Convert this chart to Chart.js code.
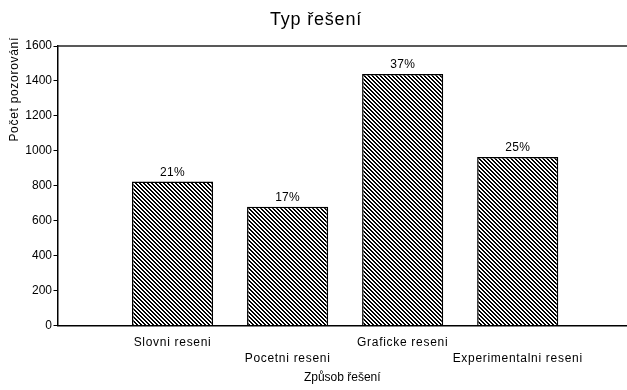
<!DOCTYPE html>
<html>
<head>
<meta charset="utf-8">
<script src="https://cdn.jsdelivr.net/npm/chart.js@4"></script>
<style>
  html, body { margin: 0; padding: 0; background: #fff; overflow: hidden; }
  #wrap { width: 627px; height: 390px; }
</style>
</head>
<body>
<div id="wrap"><canvas id="c" width="627" height="390"></canvas></div>
<script>
// Categories and observation counts
const categories = ['Slovni reseni', 'Pocetni reseni', 'Graficke reseni', 'Experimentalni reseni'];
const counts = [825, 680, 1440, 965];
const yTicks = [0, 200, 400, 600, 800, 1000, 1200, 1400, 1600];

const chartTitle = 'Typ řešení';
const xTitle = 'Způsob řešení';
const yTitle = 'Počet pozorování';

const total = counts.reduce((a, b) => a + b, 0);
const percents = counts.map(v => Math.round(v / total * 100));

const FONT = 'Liberation Sans, Arial, sans-serif';

// Diagonal hatch fill ("\\\" stripes)
function hatchPattern() {
  const c = document.createElement('canvas');
  c.width = 4; c.height = 4;
  const g = c.getContext('2d');
  const img = g.createImageData(4, 4);
  for (let y = 0; y < 4; y++) {
    for (let x = 0; x < 4; x++) {
      const d = ((x - y) % 4 + 4) % 4;
      const v = d < 2 ? 0 : 255;
      const i = (y * 4 + x) * 4;
      img.data[i] = img.data[i + 1] = img.data[i + 2] = v;
      img.data[i + 3] = 255;
    }
  }
  g.putImageData(img, 0, 0);
  return g.createPattern(c, 'repeat');
}

// Slightly wider letter spacing for the category labels
const spacedLabels = {
  id: 'spacedLabels',
  afterUpdate(chart) {
    const sx = chart.scales.x;
    if (sx._spaced) return;
    const orig = sx.drawLabels;
    sx.drawLabels = function (area) {
      const ctx = this.ctx;
      ctx.save();
      ctx.letterSpacing = '0.7px';
      orig.call(this, area);
      ctx.restore();
    };
    sx._spaced = true;
  }
};

// Frame line on top, chart title, and the vertical axis title
const decorations = {
  id: 'decorations',
  afterDraw(chart) {
    const { ctx, chartArea } = chart;
    ctx.save();
    ctx.strokeStyle = '#222';
    ctx.lineWidth = 1.5;
    ctx.beginPath();
    ctx.moveTo(chartArea.left, chartArea.top);
    ctx.lineTo(chartArea.right, chartArea.top);
    ctx.stroke();

    ctx.fillStyle = '#000';
    ctx.textBaseline = 'middle';
    ctx.textAlign = 'center';
    ctx.font = '18px ' + FONT;
    ctx.letterSpacing = '0.8px';
    ctx.fillText(chartTitle, 316, 20);

    ctx.font = '12px ' + FONT;
    ctx.letterSpacing = '0.7px';
    ctx.translate(15, 37);
    ctx.rotate(-Math.PI / 2);
    ctx.textAlign = 'right';
    ctx.fillText(yTitle, 0, 0);
    ctx.restore();
  }
};

// Percentage share printed above each bar
const shareLabels = {
  id: 'shareLabels',
  afterDatasetsDraw(chart) {
    const { ctx } = chart;
    const meta = chart.getDatasetMeta(0);
    ctx.save();
    ctx.fillStyle = '#000';
    ctx.font = '12px ' + FONT;
    ctx.letterSpacing = '0.3px';
    ctx.textAlign = 'center';
    ctx.textBaseline = 'bottom';
    meta.data.forEach((bar, i) => {
      ctx.fillText(percents[i] + '%', bar.x, bar.y - 3);
    });
    ctx.restore();
  }
};

new Chart(document.getElementById('c'), {
  type: 'bar',
  data: {
    datasets: [{
      data: categories.map((c, i) => ({ x: i + 1, y: counts[i] })),
      backgroundColor: hatchPattern(),
      borderColor: '#000',
      borderWidth: 1.5,
      barPercentage: 0.705,
      categoryPercentage: 1
    }]
  },
  options: {
    responsive: false,
    animation: false,
    layout: { padding: { top: 46 } },
    plugins: {
      legend: { display: false },
      tooltip: { enabled: false },
      title: { display: false }
    },
    scales: {
      x: {
        type: 'linear',
        offset: false,
        min: 0,
        max: 4.95,
        afterBuildTicks: s => { s.ticks = categories.map((_, i) => ({ value: i + 1 })); },
        afterFit: s => { s.height = 64.5; },
        ticks: {
          callback: (v, i) => (i % 2 ? ['', categories[i]] : categories[i]),
          color: '#000',
          font: { family: FONT, size: 12, lineHeight: 1.35 },
          padding: 9,
          maxRotation: 0,
          autoSkip: false
        },
        grid: { display: false, drawTicks: false, offset: false },
        border: { color: '#000', width: 1.5 },
        title: {
          display: true,
          text: xTitle,
          color: '#000',
          font: { family: FONT, size: 12 },
          padding: { top: 0, bottom: 5 }
        }
      },
      y: {
        min: 0,
        max: 1600,
        afterBuildTicks: s => { s.ticks = yTicks.map(v => ({ value: v })); },
        afterFit: s => { s.width = 57.5; },
        ticks: {
          callback: v => String(v),
          color: '#000',
          font: { family: FONT, size: 12 },
          padding: 1.5
        },
        grid: { drawOnChartArea: false, tickLength: 4, tickColor: '#000', tickWidth: 1 },
        border: { color: '#000', width: 1.5 }
      }
    }
  },
  plugins: [spacedLabels, shareLabels, decorations]
});
</script>
</body>
</html>
